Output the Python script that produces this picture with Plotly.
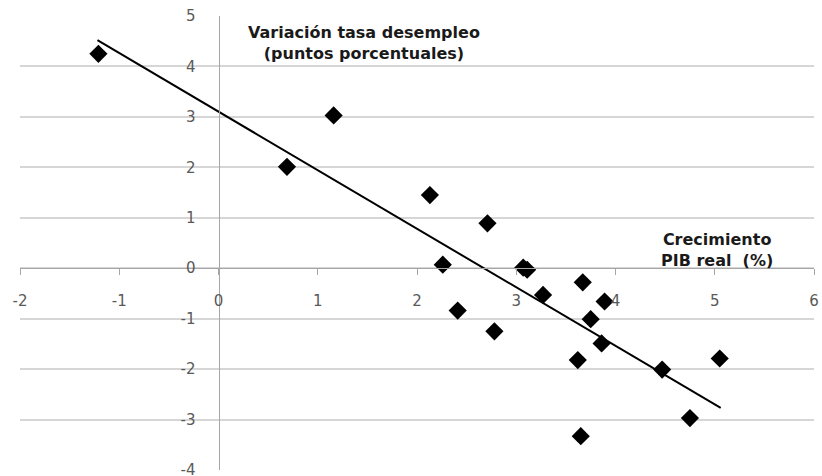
import plotly.graph_objects as go

# Data
gdp_growth = [-1.21, 0.69, 1.16, 2.13, 2.71, 2.26, 3.07, 3.11, 3.67, 3.27,
              3.89, 2.41, 3.75, 2.78, 3.86, 3.62, 5.05, 4.47, 4.75, 3.65]
unemp_change = [4.25, 2.01, 3.03, 1.45, 0.89, 0.07, 0.01, -0.03, -0.28, -0.53,
                -0.66, -0.84, -1.01, -1.25, -1.49, -1.82, -1.79, -2.01, -2.97, -3.33]

trend_x = [-1.22, 5.06]
trend_y = [4.52, -2.77]

x_ticks = [-2, -1, 0, 1, 2, 3, 4, 5, 6]
y_ticks = [-4, -3, -2, -1, 0, 1, 2, 3, 4, 5]

x_range = [-2, 6]
y_range = [-4, 5]

fig = go.Figure()
fig.add_trace(go.Scatter(x=gdp_growth, y=unemp_change, mode="markers",
                         marker=dict(symbol="diamond", size=14, color="black"),
                         showlegend=False))
fig.add_trace(go.Scatter(x=trend_x, y=trend_y, mode="lines",
                         line=dict(color="black", width=2), showlegend=False))

axis_gray = "#a6a6a6"
label_font = dict(family="DejaVu Sans, sans-serif", size=15, color="#595959")

fig.update_layout(
    width=822, height=476,
    margin=dict(l=20, r=8, t=16, b=6),
    paper_bgcolor="white", plot_bgcolor="white",
    xaxis=dict(range=x_range, domain=[0, 1], anchor="free",
               position=(0 - y_range[0]) / (y_range[1] - y_range[0]),
               tickvals=x_ticks, ticktext=[str(v) for v in x_ticks],
               showline=True, linecolor=axis_gray, linewidth=1,
               ticks="outside", ticklen=6, tickcolor=axis_gray,
               showgrid=False, zeroline=False, tickfont=label_font,
               ticklabelstandoff=13, ticklabeloverflow="allow",
               automargin=False),
    yaxis=dict(range=y_range, domain=[0, 1], anchor="free",
               position=(0 - x_range[0]) / (x_range[1] - x_range[0]),
               tickvals=y_ticks, ticktext=[str(v) for v in y_ticks],
               showline=True, linecolor=axis_gray, linewidth=1,
               ticks="", showgrid=True, gridcolor="#d6d6d6", gridwidth=2,
               zeroline=False, tickfont=label_font, ticklabelstandoff=20,
               ticklabeloverflow="allow", automargin=False),
)

ann_font = dict(family="DejaVu Sans, sans-serif", size=16, color="#1a1a1a")
fig.add_annotation(x=1.47, y=4.47, xref="x", yref="y", showarrow=False,
                   text="<b>Variación tasa desempleo<br>(puntos porcentuales)</b>",
                   font=ann_font, align="center")
fig.add_annotation(x=5.02, y=0.36, xref="x", yref="y", showarrow=False,
                   text="<b>Crecimiento<br>PIB real  (%)</b>",
                   font=ann_font, align="center")

fig.write_html("out.html")
